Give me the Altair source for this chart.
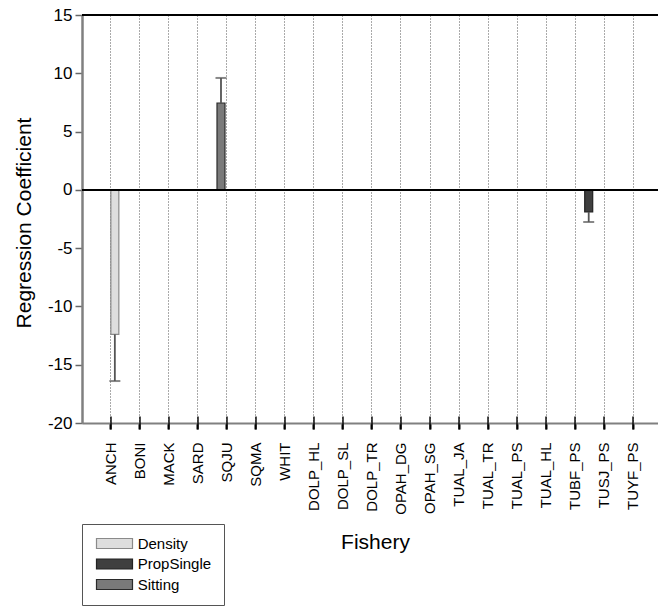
import altair as alt
import pandas as pd

fisheries = ["ANCH", "BONI", "MACK", "SARD", "SQJU", "SQMA", "WHIT",
             "DOLP_HL", "DOLP_SL", "DOLP_TR", "OPAH_DG", "OPAH_SG",
             "TUAL_JA", "TUAL_TR", "TUAL_PS", "TUAL_HL", "TUBF_PS",
             "TUSJ_PS", "TUYF_PS"]
series_names = ["Density", "PropSingle", "Sitting"]
offset_order = ["Sitting", "Density", "PropSingle"]

bar_fishery = ["ANCH", "TUBF_PS", "SQJU"]
bar_series = ["Density", "PropSingle", "Sitting"]
bar_value = [-12.4, -1.9, 7.45]
bar_error = [4.0, 0.85, 2.15]

y_ticks = [-20, -15, -10, -5, 0, 5, 10, 15]
fill_colors = ["#dedede", "#3f3f3f", "#7a7a7a"]
stroke_colors = ["#8a8a8a", "#222222", "#2a2a2a"]

df = pd.DataFrame({"fishery": bar_fishery, "series": bar_series,
                   "value": bar_value, "error": bar_error})
df["err_end"] = df["value"] + df["error"] * df["value"].apply(lambda v: 1 if v >= 0 else -1)
cats = pd.DataFrame({"fishery": fisheries})

FONT = "Liberation Sans"

xscale = alt.Scale(domain=fisheries, paddingInner=0, paddingOuter=0.431, align=0.58)
yscale = alt.Scale(domain=[-20, 15], nice=False, zero=False)
offscale = alt.Scale(domain=offset_order, range=[4.5, 32.2], paddingInner=0.19, paddingOuter=0)

xaxis = alt.Axis(title="Fishery", labelAngle=270, labelFontSize=15, labelFont=FONT,
                 labelPadding=13, labelColor="black",
                 domainColor="#808080", domainWidth=2,
                 ticks=True, tickColor="black", tickWidth=2, tickSize=6,
                 grid=True, gridColor="#555555", gridDash=[1, 2], gridWidth=1,
                 titleFontSize=21, titleFont=FONT, titleFontWeight="normal",
                 titleX=293, titleY=125, titleBaseline="alphabetic", titleAlign="center",
                 titleColor="black")
yaxis = alt.Axis(title="Regression Coefficient", values=y_ticks, grid=False,
                 labelExpr="toString(datum.value)",
                 labelFontSize=17, labelFont=FONT, labelPadding=3, labelColor="black",
                 domainColor="#808080", domainWidth=2.5,
                 tickColor="#666666", tickWidth=1.5, tickSize=7,
                 titleFontSize=21, titleFont=FONT, titleFontWeight="normal",
                 titleX=-52, titleY=207.5, titleBaseline="alphabetic", titleAlign="center",
                 titleAngle=270, titleColor="black")

legend = alt.Legend(orient="none", legendX=0, legendY=509, title=None,
                    symbolType="M-1,-1H6.2V1H-1Z", symbolSize=100,
                    symbolStrokeWidth=1.2, symbolOpacity=1,
                    labelOffset=28.7, labelFontSize=15, labelFont=FONT, labelColor="black",
                    labelExpr="datum.label + '\u00a0\u00a0'",
                    padding=12, rowPadding=4.5, strokeColor="#555555", fillColor="white")

x_enc = alt.X("fishery:N", scale=xscale, axis=xaxis, sort=fisheries)
x_plain = alt.X("fishery:N", scale=xscale, sort=fisheries)
xo_enc = alt.XOffset("series:N", scale=offscale)

top_line = alt.Chart(cats).mark_rule(color="black", strokeWidth=1.5).encode(
    y=alt.datum(15, scale=yscale))
zero_line = alt.Chart(cats).mark_rule(color="black", strokeWidth=1.5).encode(
    y=alt.datum(0))

axis_ticks = alt.Chart(cats).mark_tick(orient="vertical", size=13, thickness=2,
                                       color="black").encode(
    x=x_plain, y=alt.datum(-20))

bars = alt.Chart(df).mark_bar(strokeWidth=1.2).encode(
    x=x_enc,
    xOffset=xo_enc,
    y=alt.Y("value:Q", scale=yscale, axis=yaxis, stack=None),
    y2=alt.datum(0),
    color=alt.Color("series:N", scale=alt.Scale(domain=series_names, range=fill_colors),
                    legend=legend),
    stroke=alt.Stroke("series:N", scale=alt.Scale(domain=series_names, range=stroke_colors),
                      legend=legend),
)

err_rule = alt.Chart(df).mark_rule(color="#555555", strokeWidth=1.8).encode(
    x=x_plain, xOffset=xo_enc, y="value:Q", y2="err_end:Q")
err_cap = alt.Chart(df).mark_tick(orient="horizontal", size=11, thickness=2,
                                  color="#555555").encode(
    x=x_plain, xOffset=xo_enc, y="err_end:Q")

chart = alt.layer(bars, top_line, zero_line, axis_ticks, err_rule, err_cap).properties(
    width=576, height=408,
    autosize=alt.AutoSizeParams(type="none"),
    padding={"left": 82, "top": 15, "right": 0, "bottom": 184},
).configure_view(strokeWidth=0).configure(font=FONT)

chart.save("out.html", embed_options={"renderer": "svg", "actions": False})
